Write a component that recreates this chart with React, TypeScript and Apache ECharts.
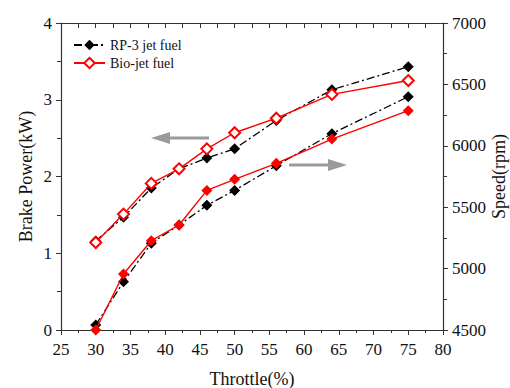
import React, { useEffect, useRef } from "react";
import * as echarts from "echarts";

const throttle = [30, 34, 38, 42, 46, 50, 56, 64, 75];
const powerRP3 = [1.16, 1.47, 1.85, 2.1, 2.24, 2.36, 2.73, 3.13, 3.43];
const powerBio = [1.14, 1.51, 1.91, 2.1, 2.36, 2.57, 2.76, 3.07, 3.25];
const speedRP3 = [4541, 4893, 5206, 5355, 5515, 5637, 5838, 6099, 6400];
const speedBio = [4500, 4956, 5227, 5355, 5637, 5727, 5857, 6055, 6286];
const legendNames = ["RP-3 jet fuel", "Bio-jet fuel"];

const FONT = "'Liberation Serif', 'Times New Roman', serif";
const AXIS_COLOR = "#333";

const pairs = (ys: number[]) => throttle.map((x, i) => [x, ys[i]]);

export default function App() {
  const ref = useRef<HTMLDivElement>(null);

  useEffect(() => {
    if (!ref.current) return;
    const chart = echarts.init(ref.current, null, { renderer: "svg" });

    const axisLine = { show: true, lineStyle: { color: AXIS_COLOR, width: 1.2 } };
    const label = { color: "#111", fontFamily: FONT, fontSize: 17 };
    const nameStyle = { color: "#111", fontFamily: FONT, fontSize: 18 };

    const dashDot = [8, 3, 2, 3];

    chart.setOption({
      animation: false,
      backgroundColor: "#fff",
      grid: { left: 61, right: 67, top: 23, bottom: 58, containLabel: false, outerBoundsMode: "none" },
      legend: {
        orient: "vertical",
        left: 68,
        top: 33,
        itemWidth: 31,
        itemHeight: 13,
        itemGap: 4,
        data: legendNames,
        textStyle: { color: "#111", fontFamily: FONT, fontSize: 14 },
      },
      xAxis: [
        {
          type: "value",
          min: 25,
          max: 80,
          interval: 5,
          name: "Throttle(%)",
          nameLocation: "middle",
          nameGap: 40,
          nameMoveOverlap: false,
          nameTextStyle: nameStyle,
          axisLine,
          axisTick: { show: true, inside: false, length: 5, lineStyle: { color: AXIS_COLOR } },
          minorTick: { show: true, splitNumber: 2, length: 3, lineStyle: { color: AXIS_COLOR } },
          axisLabel: { ...label, margin: 11 },
          splitLine: { show: false },
        },
        {
          type: "value",
          position: "top",
          min: 25,
          max: 80,
          interval: 5,
          axisLine,
          axisTick: { show: true, inside: true, length: 5, lineStyle: { color: AXIS_COLOR } },
          minorTick: { show: true, splitNumber: 2, length: 5, lineStyle: { color: AXIS_COLOR } },
          axisLabel: { show: false },
          splitLine: { show: false },
        },
      ],
      yAxis: [
        {
          type: "value",
          min: 0,
          max: 4,
          interval: 1,
          name: "Brake Power(kW)",
          nameLocation: "middle",
          nameRotate: 90,
          nameGap: 26,
          nameMoveOverlap: false,
          nameTextStyle: nameStyle,
          axisLine,
          axisTick: { show: true, inside: false, length: 5, lineStyle: { color: AXIS_COLOR } },
          minorTick: { show: true, splitNumber: 2, length: 4, lineStyle: { color: AXIS_COLOR } },
          axisLabel: { ...label, margin: 9 },
          splitLine: { show: false },
        },
        {
          type: "value",
          min: 4500,
          max: 7000,
          interval: 500,
          position: "right",
          name: "Speed(rpm)",
          nameLocation: "middle",
          nameRotate: 90,
          nameGap: 47,
          nameMoveOverlap: false,
          nameTextStyle: nameStyle,
          axisLine,
          axisTick: { show: true, inside: false, length: 5, lineStyle: { color: AXIS_COLOR } },
          minorTick: { show: true, splitNumber: 2, length: 4, lineStyle: { color: AXIS_COLOR } },
          axisLabel: { ...label, margin: 9, formatter: (v: number) => String(v) },
          splitLine: { show: false },
        },
      ],
      series: [
        {
          name: legendNames[0],
          type: "line",
          yAxisIndex: 0,
          data: pairs(powerRP3),
          symbol: "diamond",
          symbolSize: 11,
          itemStyle: { color: "#000" },
          lineStyle: { color: "#000", width: 1.3, type: dashDot },
          z: 2,
        },
        {
          name: legendNames[1],
          type: "line",
          yAxisIndex: 0,
          data: pairs(powerBio),
          symbol: "diamond",
          symbolSize: 11,
          itemStyle: { color: "#fff", borderColor: "#f00", borderWidth: 2 },
          lineStyle: { color: "#f00", width: 1.4 },
          z: 3,
        },
        {
          name: legendNames[0],
          type: "line",
          yAxisIndex: 1,
          data: pairs(speedRP3),
          symbol: "diamond",
          symbolSize: 11,
          itemStyle: { color: "#000" },
          lineStyle: { color: "#000", width: 1.3, type: dashDot },
          z: 2,
        },
        {
          name: legendNames[1],
          type: "line",
          yAxisIndex: 1,
          data: pairs(speedBio),
          symbol: "diamond",
          symbolSize: 11,
          itemStyle: { color: "#f00" },
          lineStyle: { color: "#f00", width: 1.4 },
          z: 3,
        },
      ],
      graphic: [
        // arrow pointing to the left axis (brake power curves)
        {
          type: "line",
          shape: { x1: 168, y1: 138, x2: 209, y2: 138 },
          style: { stroke: "#9a9a9a", lineWidth: 3 },
        },
        {
          type: "polygon",
          shape: { points: [[151, 138], [170, 132], [170, 144]] },
          style: { fill: "#9a9a9a" },
        },
        // arrow pointing to the right axis (speed curves)
        {
          type: "line",
          shape: { x1: 289, y1: 165, x2: 330, y2: 165 },
          style: { stroke: "#9a9a9a", lineWidth: 3 },
        },
        {
          type: "polygon",
          shape: { points: [[347, 165], [328, 159], [328, 171]] },
          style: { fill: "#9a9a9a" },
        },
      ],
    });

    return () => chart.dispose();
  }, []);

  return <div ref={ref} style={{ width: 510, height: 388, position: "absolute", left: 0, top: 0 }} />;
}
